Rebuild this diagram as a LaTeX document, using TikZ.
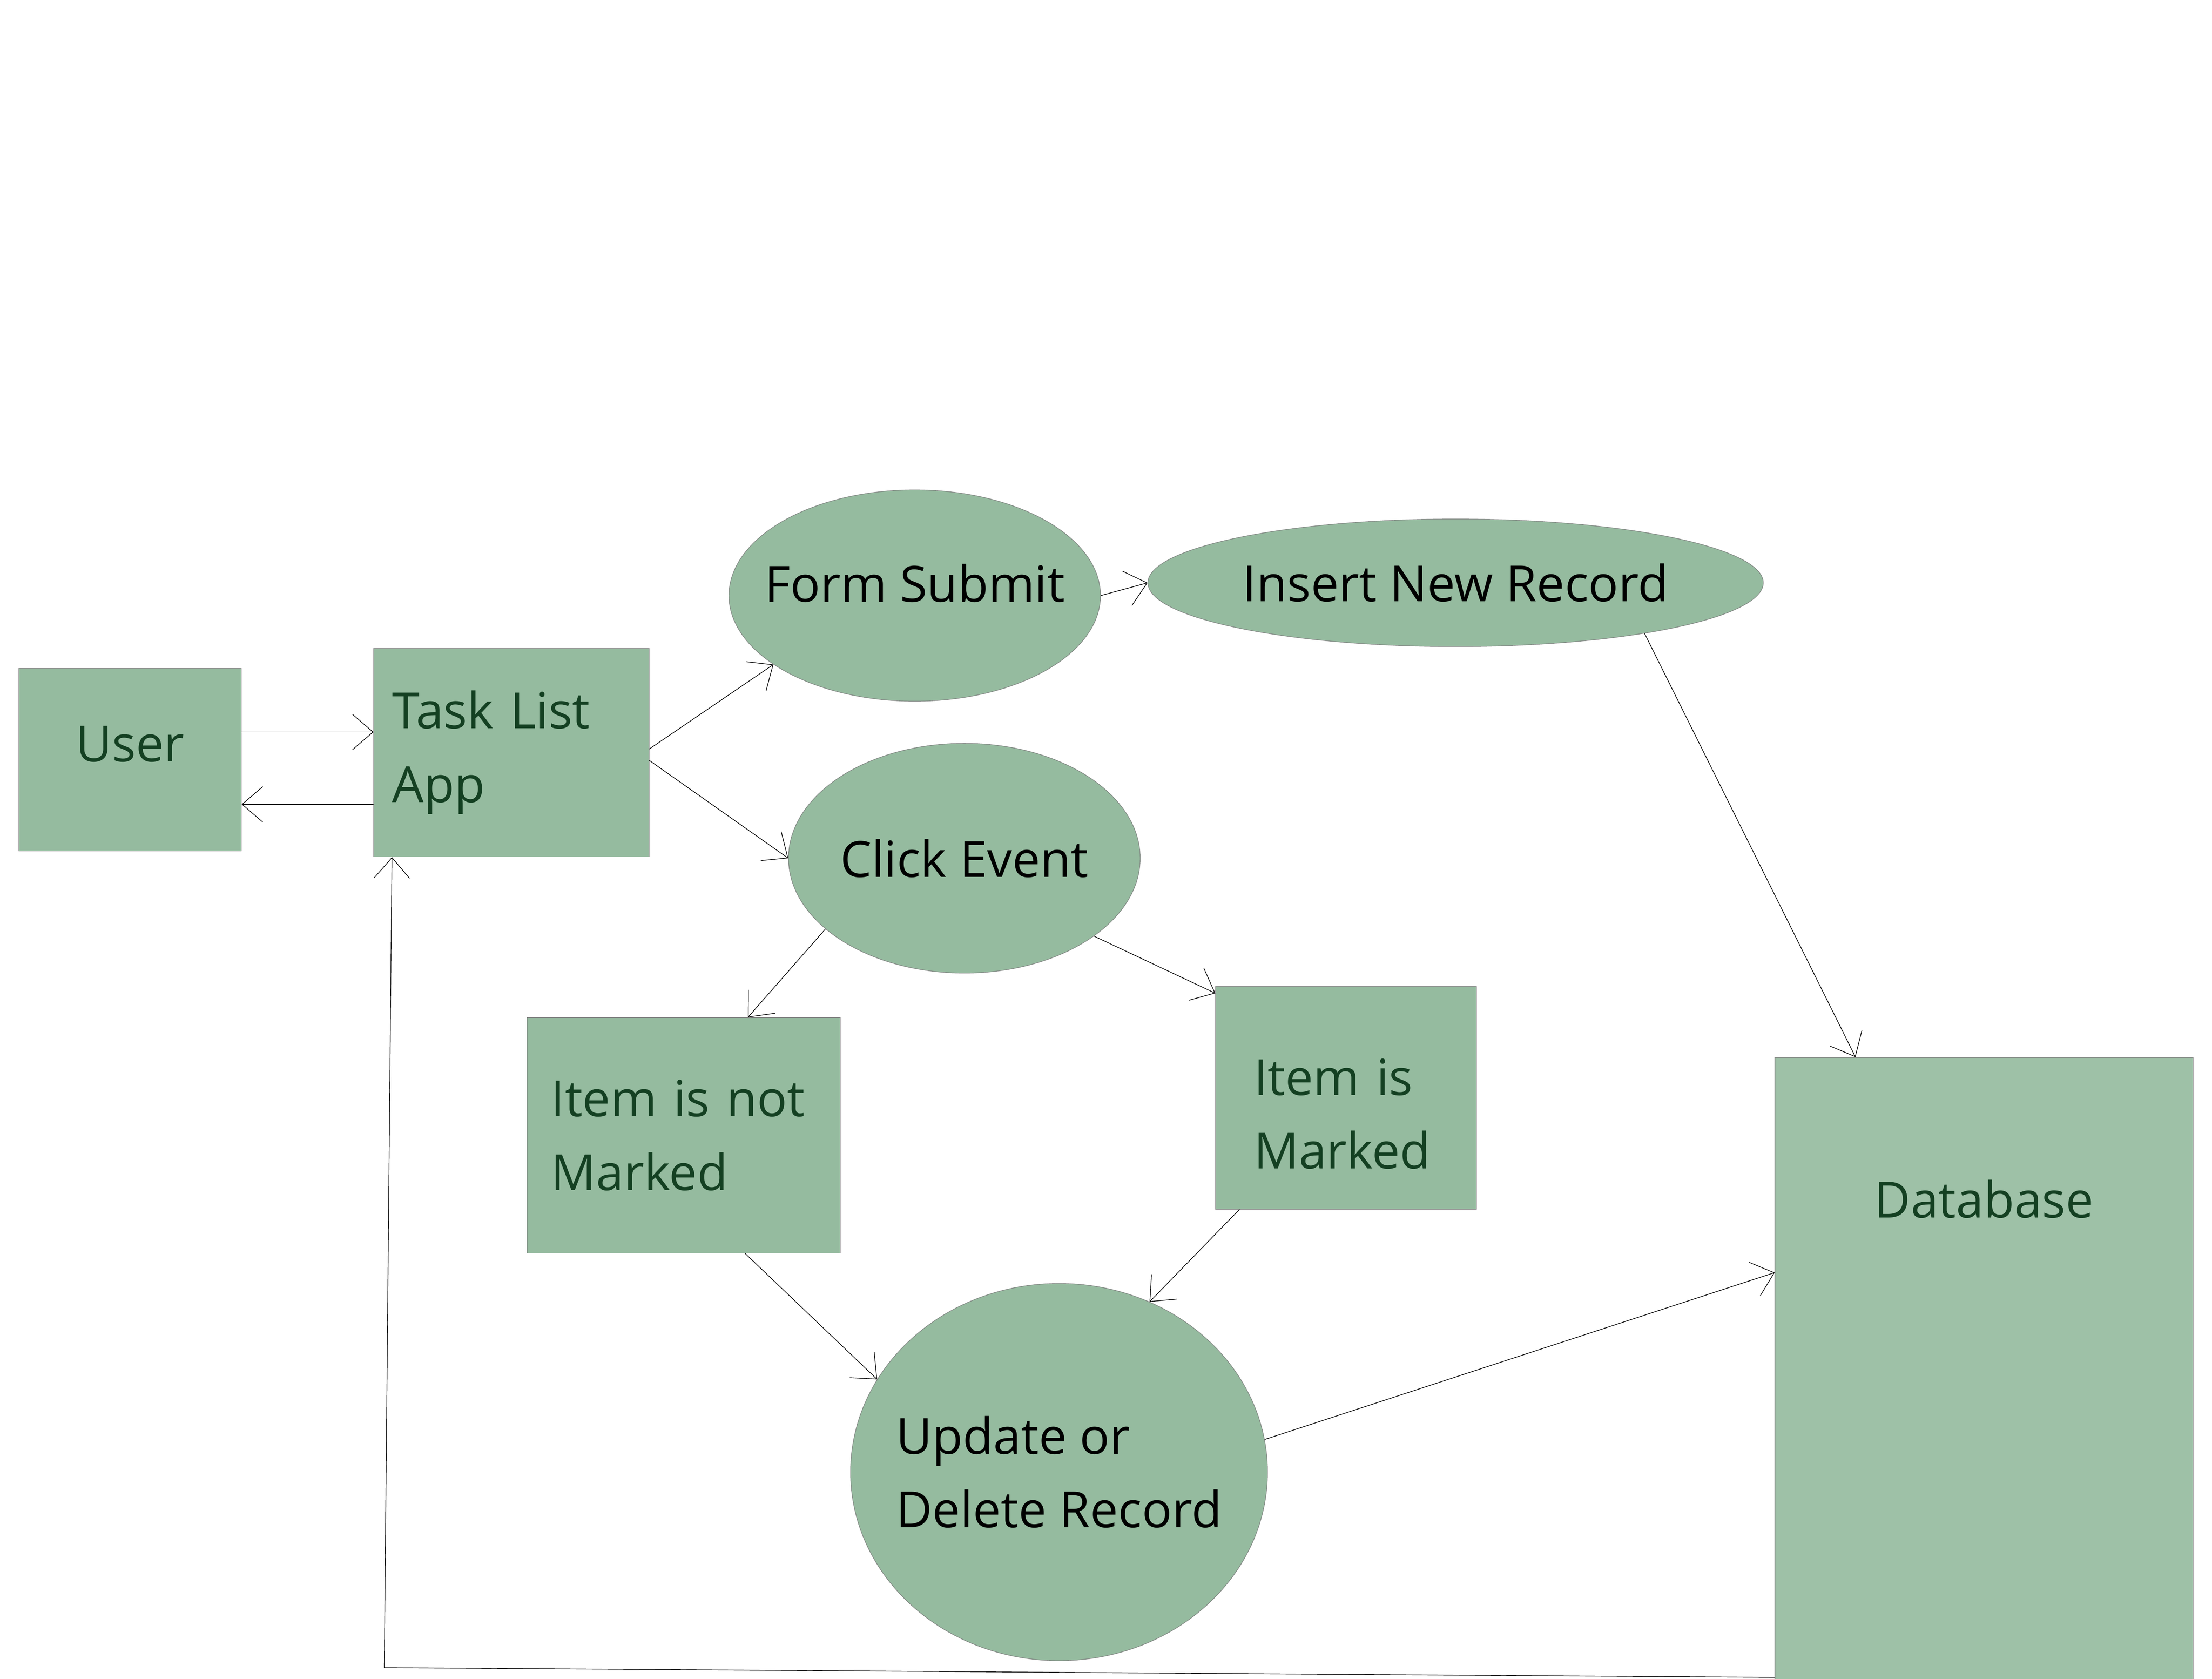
\documentclass[tikz,border=0pt]{standalone}
\usepackage{fontspec}
\setmainfont{Open Sans}
\usepackage{tikz}
\usetikzlibrary{arrows.meta,positioning,shapes.geometric}

\definecolor{boxgreen}{RGB}{149,187,159}
\definecolor{dbgreen}{RGB}{158,193,167}
\definecolor{textgreen}{RGB}{20,64,34}

\begin{document}
\begin{tikzpicture}[>={Straight Barb[length=0.29cm,width=0.5cm]}, line width=0.25pt]
	\tikzstyle{box}=[rectangle, draw=gray, fill=boxgreen, text=textgreen,
		font=\fontsize{20}{29.6}\selectfont, inner sep=0pt]
	\tikzstyle{bubble}=[ellipse, draw=gray!80!boxgreen, fill=boxgreen, text=black,
		font=\fontsize{20}{29.6}\selectfont, inner sep=-1.2cm]
	\useasboundingbox (0,0) rectangle (31.2,-23.68);
	% % Nodes
	% user
	\node[box, anchor=north west, minimum width=3.14cm, minimum height=2.58cm,
		  text depth=0.45cm]
	(user) at (0.26,-9.42) {User};
	% task list app
	\node[box, below right=-0.28cm and 1.86cm of user.north east,
		  minimum width=3.88cm, minimum height=2.94cm,
		  text width=3.36cm, inner xsep=0.26cm, align=left]
	(app)
	{Task List\\App};
	% form submit
	\node[bubble, above right=0.74cm and 1.12cm of app.north east, anchor=west,
		  minimum width=5.24cm, minimum height=2.98cm, text depth=0.36cm]
	(form)
	{Form Submit};
	% insert new record
	\node[bubble, above right=0.18cm and 0.66cm of form.east, anchor=west,
		  minimum width=8.68cm, minimum height=1.8cm]
	(insert)
	{Insert New Record};
	% click event
	\node[bubble, below right=1.49cm and 1.96cm of app.east, anchor=west,
		  minimum width=4.96cm, minimum height=3.24cm]
	(click)
	{Click Event};
	% item is not marked
	\node[box, below right=2.26cm and 2.16cm of app.south west,
		  minimum width=4.42cm, minimum height=3.32cm,
		  text width=3.74cm, inner xsep=0.34cm, align=left]
	(notmarked)
	{Item is not\\Marked};
	% item is marked
	\node[box, below right=0.18cm and 3.54cm of click.south,
		  minimum width=3.68cm, minimum height=3.14cm,
		  text width=2.6cm, inner xsep=0.54cm, align=left, text height=0.97cm]
	(marked)
	{Item is\\Marked};
	% update or delete record
	\node[bubble, below right=0.42cm and 3.08cm of notmarked.south east, anchor=north,
		  minimum width=5.88cm, minimum height=5.32cm, align=left]
	(update)
	{Update or\\Delete Record};
	% database
	\node[box, fill=dbgreen, below right=1cm and 4.2cm of marked.north east,
		  minimum width=5.9cm, text height=2.26cm, text depth=6.84cm]
	(db)
	{Database};
	\coordinate (back) at (5.42,-23.52);
	% % Connectors
	\draw [->] ([yshift=.39cm]user.east) -- ([yshift=.39cm]user.east -| app.west);
	\draw [->] ([yshift=-.63cm]user.east -| app.west) -- ([yshift=-.63cm]user.east);
	\draw [->] ([yshift=.05cm]app.east) -- (form.206);
	\draw [->] ([yshift=-.11cm]app.east) -- (click.west);
	\draw [->] (form.east) -- (insert.west);
	\draw [->] (insert.345) -- ([xshift=1.14cm]db.north west);
	\draw [->] (click.207) -- ([xshift=3.12cm]notmarked.north west);
	\draw [->] (click.329) -- ([yshift=-.1cm]marked.north west);
	\draw [->] ([xshift=3.08cm]notmarked.south west) -- (update.153);
	\draw [->] ([xshift=.34cm]marked.south west) -- (update.62);
	\draw [->] (update.9) -- ([yshift=-3.04cm]db.north west);
	\draw [->] ([yshift=.36cm]db.south west) -- (back) -- ([xshift=.26cm]app.south west);
\end{tikzpicture}
\end{document}
